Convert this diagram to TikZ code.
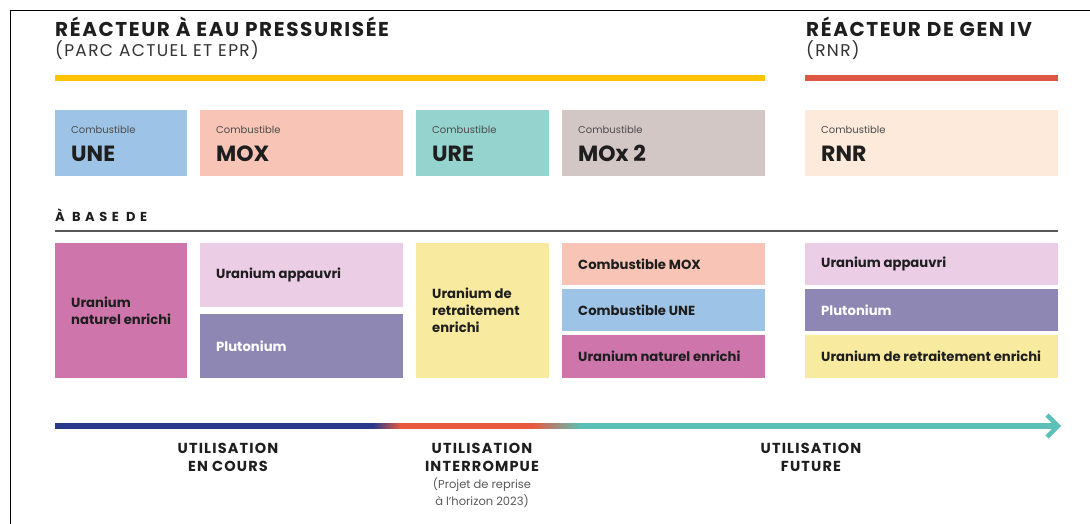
\documentclass[tikz,border=0pt]{standalone}
\usepackage{fontspec}
\setmainfont{Poppins}
\newfontfamily\wideA{Poppins}[LetterSpace=35]
\newfontfamily\wideB{Poppins}[LetterSpace=8]
\usetikzlibrary{calc}
\definecolor{cUNE}{HTML}{9DC3E6}
\definecolor{cMOX}{HTML}{F7C4B5}
\definecolor{cURE}{HTML}{95D3CF}
\definecolor{cMOXb}{HTML}{D2C7C5}
\definecolor{cRNR}{HTML}{FDEADB}
\definecolor{cUNat}{HTML}{CE76AC}
\definecolor{cUApp}{HTML}{ECCDE6}
\definecolor{cPu}{HTML}{8E87B4}
\definecolor{cURet}{HTML}{F8EA9E}
\definecolor{cYellow}{HTML}{FFC400}
\definecolor{cRed}{HTML}{DE5544}
\definecolor{cGray}{HTML}{5A5A5A}
\definecolor{cNavy}{HTML}{2A3A8A}
\definecolor{cTRed}{HTML}{E85A40}
\definecolor{cTeal}{HTML}{5BC0B7}
\definecolor{cText}{HTML}{1E1E1E}
\pgfdeclarehorizontalshading{timeline}{100bp}{color(0bp)=(cNavy); color(40.9bp)=(cNavy); color(42.3bp)=(cTRed); color(48.9bp)=(cTRed); color(51.3bp)=(cTeal); color(100bp)=(cTeal)}
\begin{document}
\begin{tikzpicture}[x=1pt,y=-1pt,
  box/.style={rectangle, anchor=north west, inner sep=0pt, draw=none},
  lab/.style={anchor=west, align=left, inner sep=0pt, text=cText, font=\bfseries\fontsize{13.2}{17}\selectfont},
  comb/.style={anchor=base west, inner sep=0pt, text=black!70, font=\fontsize{10}{11}\selectfont},
  fuel/.style={anchor=base west, inner sep=0pt, text=cText, font=\bfseries\fontsize{22}{24}\selectfont},
  title/.style={anchor=base west, inner sep=0pt, text=cText, font=\wideB\bfseries\fontsize{20}{22}\selectfont},
  subtitle/.style={anchor=base west, inner sep=0pt, text=black!80, font=\wideB\fontsize{17}{19}\selectfont},
  usage/.style={anchor=base, align=center, inner sep=0pt, text=cText, font=\wideB\bfseries\fontsize{14.5}{18}\selectfont},
  note/.style={anchor=base, align=center, inner sep=0pt, text=black!65, font=\fontsize{11.5}{17}\selectfont},
]
\useasboundingbox (0,0) rectangle (1090,524);
\fill[white] (0,0) rectangle (1090,524);
% frame
\coordinate (fa) at (10.5,524);
\coordinate (fb) at (10.5,10.5);
\coordinate (fc) at (1090,10.5);
\draw[line width=1.6pt, black] (fa) -- (fb) -- (fc);

% titles
\node[title] (t1) at (55,37) {RÉACTEUR À EAU PRESSURISÉE};
\node[subtitle] (s1) at (55,57) {(PARC ACTUEL ET EPR)};
\node[title] (t2) at (806,37) {RÉACTEUR DE GEN IV};
\node[subtitle] (s2) at (806,57) {(RNR)};
\coordinate (y1) at (55,78);
\coordinate (y2) at (765,78);
\coordinate (r1) at (805,78);
\coordinate (r2) at (1058,78);
\draw[line width=6pt, cYellow] (y1) -- (y2);
\draw[line width=6pt, cRed] (r1) -- (r2);

% top fuel boxes
\node[box, fill=cUNE, minimum width=132pt, minimum height=66pt] (une) at (55,110) {};
\node[box, fill=cMOX, minimum width=203pt, minimum height=66pt] (mox) at (200,110) {};
\node[box, fill=cURE, minimum width=133pt, minimum height=66pt] (ure) at (416,110) {};
\node[box, fill=cMOXb, minimum width=203pt, minimum height=66pt] (moxb) at (562,110) {};
\node[box, fill=cRNR, minimum width=253pt, minimum height=66pt] (rnr) at (805,110) {};
\foreach \b/\t in {une/UNE, mox/MOX, ure/URE, moxb/MOx 2, rnr/RNR}{
  \node[comb] (\b-c) at ($(\b.north west)+(16,24)$) {Combustible};
  \node[fuel] (\b-n) at ($(\b.north west)+(16,51)$) {\t};
}

% a base de
\node[anchor=base west, inner sep=0pt, text=cText, font=\wideA\bfseries\fontsize{13}{15}\selectfont] (base) at (55,222) {À BASE DE};
\coordinate (g1) at (55,231);
\coordinate (g2) at (1058,231);
\draw[line width=2pt, cGray] (g1) -- (g2);

% composition boxes
\node[box, fill=cUNat, minimum width=132pt, minimum height=135pt] (unat) at (55,243) {};
\node[box, fill=cUApp, minimum width=203pt, minimum height=64pt] (uapp) at (200,243) {};
\node[box, fill=cPu, minimum width=203pt, minimum height=64pt] (pu) at (200,314) {};
\node[box, fill=cURet, minimum width=133pt, minimum height=135pt] (uret) at (416,243) {};
\node[box, fill=cMOX, minimum width=203pt, minimum height=42pt] (cmox) at (562,243) {};
\node[box, fill=cUNE, minimum width=203pt, minimum height=42pt] (cune) at (562,289) {};
\node[box, fill=cUNat, minimum width=203pt, minimum height=43pt] (unatb) at (562,335) {};
\node[box, fill=cUApp, minimum width=253pt, minimum height=42pt] (uappb) at (805,243) {};
\node[box, fill=cPu, minimum width=253pt, minimum height=42pt] (pub) at (805,289) {};
\node[box, fill=cURet, minimum width=253pt, minimum height=43pt] (uretb) at (805,335) {};

\node[lab] (unat-l) at ($(unat.west)+(16,0)$) {Uranium\\naturel enrichi};
\node[lab] (uapp-l) at ($(uapp.west)+(16,0)$) {Uranium appauvri};
\node[lab, text=white] (pu-l) at ($(pu.west)+(16,0)$) {Plutonium};
\node[lab] (uret-l) at ($(uret.west)+(16,0)$) {Uranium de\\retraitement\\enrichi};
\node[lab] (cmox-l) at ($(cmox.west)+(16,0)$) {Combustible MOX};
\node[lab] (cune-l) at ($(cune.west)+(16,0)$) {Combustible UNE};
\node[lab] (unatb-l) at ($(unatb.west)+(16,0)$) {Uranium naturel enrichi};
\node[lab] (uappb-l) at ($(uappb.west)+(16,0)$) {Uranium appauvri};
\node[lab, text=white] (pub-l) at ($(pub.west)+(16,0)$) {Plutonium};
\node[lab] (uretb-l) at ($(uretb.west)+(16,0)$) {Uranium de retraitement enrichi};

% timeline
\coordinate (tl0) at (55,426);
\coordinate (tl1) at (1058,426);
\shade[shading=timeline] (55,423.5) rectangle (1055,428.5);
\draw[cTeal, line width=4.5pt, line join=miter] ($(tl1)+(-11,-11)$) -- (tl1) -- ($(tl1)+(-11,11)$);

\node[usage] (u1) at (228,471) {UTILISATION\\EN COURS};
\node[usage] (u2) at (482,471) {UTILISATION\\INTERROMPUE};
\node[note] (u2n) at (482,505) {(Projet de reprise\\à l'horizon 2023)};
\node[usage] (u3) at (811,471) {UTILISATION\\FUTURE};
\end{tikzpicture}
\end{document}
